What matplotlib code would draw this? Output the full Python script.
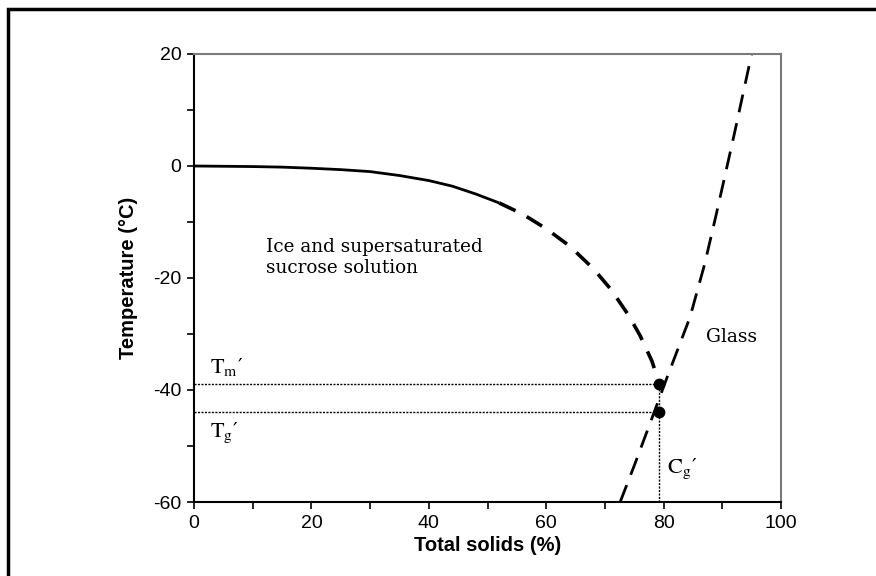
import matplotlib
matplotlib.use("Agg")
import matplotlib.pyplot as plt
from matplotlib.patches import Rectangle

# Freezing (ice) curve: measured part and extrapolated part
freeze_solid_x = [0, 10, 15, 20, 25, 30, 35, 40, 44, 48, 52]
freeze_solid_t = [0, -0.1, -0.2, -0.4, -0.65, -1.0, -1.7, -2.6, -3.6, -5.0, -6.6]
freeze_dash_x = [52, 56, 60, 64, 68, 71, 74, 76, 78, 79.3]
freeze_dash_t = [-6.6, -8.6, -11.2, -14.3, -18.3, -22.0, -26.6, -30.3, -34.8, -39.0]

# Glass transition curve
glass_x = [72.6, 75.0, 77.5, 80.5, 84.5, 87.0, 89.0, 92.0, 95.0]
glass_t = [-60, -53.5, -46.5, -38.0, -27.0, -17.5, -8.5, 5.5, 20]

# Characteristic points
cg_prime = 79.3
tm_prime = -39.0
tg_prime = -44.0

xticks = [0, 20, 40, 60, 80, 100]
yticks = [-60, -40, -20, 0, 20]

plt.rcParams["mathtext.fontset"] = "stix"
plt.rcParams["axes.unicode_minus"] = False

fig = plt.figure(figsize=(8.76, 5.76), dpi=100)
ax = fig.add_axes([194 / 876, 1 - 502 / 576, 587 / 876, 448 / 576])

# outer frame of the figure
fig.patches.append(Rectangle((8 / 876, -0.5), 1.5, 1.5 - 9 / 576, transform=fig.transFigure,
                             fill=False, edgecolor="black", linewidth=2.5, zorder=0))

ax.plot(freeze_solid_x, freeze_solid_t, color="black", lw=2.0, solid_capstyle="butt")
ax.plot(freeze_dash_x, freeze_dash_t, color="black", lw=2.6, linestyle=(0, (5, 3.5)))
ax.plot(glass_x, glass_t, color="black", lw=2.0, linestyle=(0, (6.5, 4)))

# reference lines for Tm', Tg' and Cg'
dot = (0, (1.5, 1))
ax.plot([0, cg_prime], [tm_prime, tm_prime], color="black", lw=1.0, linestyle=dot)
ax.plot([0, cg_prime], [tg_prime, tg_prime], color="black", lw=1.0, linestyle=dot)
ax.plot([cg_prime, cg_prime], [-60, tm_prime], color="black", lw=1.0, linestyle=dot)
ax.plot([cg_prime, cg_prime], [tm_prime, tg_prime], "o", color="black", ms=7.5)

serif = ["DejaVu Serif"]
ax.text(12.3, -16.3, "Ice and supersaturated\nsucrose solution", fontsize=13.2,
        family=serif, va="center", ha="left", linespacing=1.25)
ax.text(87.2, -30.6, "Glass", fontsize=13.5, family=serif, va="center", ha="left")


def primed(x, y, base, sub):
    """Letter with subscript, followed by a full-size prime."""
    t = ax.text(x, y, rf"$\mathrm{{{base}}}_\mathrm{{{sub}}}$", fontsize=16,
                va="baseline", ha="left")
    ax.annotate("′", xy=(1.0, 1.0), xycoords=t, fontsize=15, family=serif,
                va="top", ha="left")


primed(2.7, -37.0, "T", "m")
primed(2.7, -48.4, "T", "g")
primed(80.6, -54.8, "C", "g")

ax.set_xlim(0, 100)
ax.set_ylim(-60, 20)
ax.set_xticks(xticks)
ax.set_yticks(yticks)
ax.set_xticks(range(10, 100, 20), minor=True)
ax.set_yticks(range(-50, 20, 20), minor=True)

sans = ["Liberation Sans Narrow", "Liberation Sans", "DejaVu Sans"]
ax.tick_params(which="both", direction="out", length=5, width=1.2, colors="black")
ax.tick_params(which="major", pad=4)
for lab in ax.get_xticklabels() + ax.get_yticklabels():
    lab.set_fontfamily(sans)
    lab.set_fontsize(14)
ax.set_xlabel("Total solids (%)", fontsize=14.5, fontweight="bold", family=sans, labelpad=3)
ax.set_ylabel("Temperature (°C)", fontsize=14.5, fontweight="bold", family=sans, labelpad=11)

for s in ["left", "bottom"]:
    ax.spines[s].set_linewidth(1.5)
    ax.spines[s].set_color("black")
for s in ["top", "right"]:
    ax.spines[s].set_linewidth(1.5)
    ax.spines[s].set_color("#7a7a7a")

fig.savefig("out.png", dpi=100)
